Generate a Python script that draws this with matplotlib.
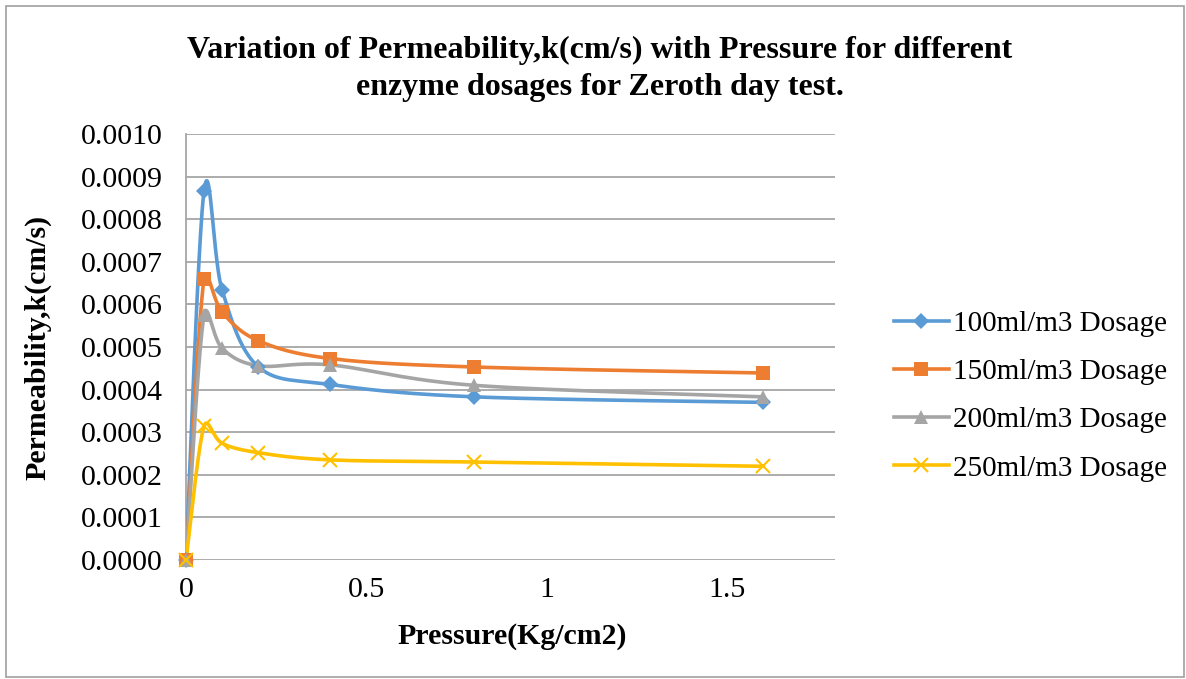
import numpy as np
import matplotlib.pyplot as plt
from matplotlib.patches import Rectangle

# Data
pressure = [0, 0.05, 0.1, 0.2, 0.4, 0.8, 1.6]
k_100 = [0, 0.000866, 0.000634, 0.000454, 0.000412, 0.000383, 0.000370]
k_150 = [0, 0.000660, 0.000582, 0.000515, 0.000473, 0.000453, 0.000439]
k_200 = [0, 0.000575, 0.000497, 0.000456, 0.000458, 0.000410, 0.000383]
k_250 = [0, 0.000314, 0.000274, 0.000252, 0.000235, 0.000230, 0.000220]
labels = ['100ml/m3 Dosage', '150ml/m3 Dosage', '200ml/m3 Dosage', '250ml/m3 Dosage']
colors = ['#5B9BD5', '#ED7D31', '#A5A5A5', '#FFC000']
markers = ['D', 's', '^', 'x']
msizes = [8, 10, 10, 10]

plt.rcParams['font.family'] = ['Liberation Serif', 'DejaVu Serif']

W, H = 1186, 679
fig = plt.figure(figsize=(W / 100, H / 100), dpi=100)
ax_l, ax_r, ax_t, ax_b = 186 / W, 835 / W, 1 - 134 / H, 1 - 560 / H
ax = fig.add_axes([ax_l, ax_b, ax_r - ax_l, ax_t - ax_b])

xmax, ymax = 1.8, 0.001
sx = (ax_r - ax_l) * W / xmax
sy = (ax_t - ax_b) * H / ymax


def limit(d, seglen):
    # control arm no longer than half the segment
    L = np.linalg.norm(d)
    lim = seglen / 2
    if L > lim and L > 0:
        d = d * lim / L
    return d


def smooth(x, y, n=40):
    # Excel-like smoothing with cubic Bezier segments in pixel space
    p = np.column_stack([np.array(x) * sx, np.array(y) * sy])
    pts = [p[0]] + list(p) + [p[-1]]
    out = []
    t = np.linspace(0, 1, n)[:, None]
    for i in range(1, len(pts) - 2):
        p0, p1, p2, p3 = pts[i - 1], pts[i], pts[i + 1], pts[i + 2]
        seglen = np.linalg.norm(p2 - p1)
        c1 = p1 + limit((p2 - p0) / 6, seglen)
        c2 = p2 - limit((p3 - p1) / 6, seglen)
        seg = (1 - t) ** 3 * p1 + 3 * (1 - t) ** 2 * t * c1 + 3 * (1 - t) * t ** 2 * c2 + t ** 3 * p2
        out.append(seg)
    out = np.vstack(out)
    return out[:, 0] / sx, out[:, 1] / sy


for ys, lab, c, m, ms in zip([k_100, k_150, k_200, k_250], labels, colors, markers, msizes):
    xs_s, ys_s = smooth(pressure, ys)
    ax.plot(xs_s, ys_s, color=c, lw=2.6, zorder=3)
    ax.plot(pressure, ys, linestyle='none', marker=m, color=c, ms=ms,
            mew=1.5 if m == 'x' else 0, zorder=4, clip_on=False)
    ax.plot([], [], color=c, lw=2.6, marker=m, ms=ms, mew=1.5 if m == 'x' else 0, label=lab)

ax.set_xlim(0, xmax)
ax.set_ylim(0, ymax)
ax.set_xticks([0, 0.5, 1, 1.5])
ax.set_xticklabels(['0', '0.5', '1', '1.5'])
ax.set_yticks(np.arange(0, 0.00101, 0.0001))
ax.set_yticklabels([f'{v:.4f}' for v in np.arange(0, 0.00101, 0.0001)])
ax.tick_params(length=0, labelsize=21.5)
ax.tick_params(axis='x', pad=12)
ax.tick_params(axis='y', pad=17)
ax.grid(axis='y', color='#A6A6A6', lw=1.3)
ax.set_axisbelow(True)
for s in ['top', 'right', 'bottom']:
    ax.spines[s].set_visible(False)
ax.spines['left'].set_color('#A6A6A6')
ax.spines['left'].set_linewidth(1.3)

fig.text(512 / W, 1 - 636 / H, 'Pressure(Kg/cm2)', ha='center', va='center',
         fontsize=21.5, fontweight='bold')
fig.text(38 / W, 1 - 347 / H, 'Permeability,k(cm/s)', ha='center', va='center',
         rotation=90, fontsize=21.5, fontweight='bold')
fig.text(600 / W, 1 - 69 / H, 'Variation of Permeability,k(cm/s) with Pressure for different\nenzyme dosages for Zeroth day test.',
         ha='center', va='center', fontsize=23, fontweight='bold', linespacing=1.35)

ax.legend(loc='center left', bbox_to_anchor=(882 / W, 1 - 396 / H), bbox_transform=fig.transFigure,
          frameon=False, fontsize=21, handlelength=1.9, labelspacing=0.75, handletextpad=0.15,
          borderaxespad=0)

fig.patches.append(Rectangle((6 / W, 2 / H), 1 - 8 / W, 1 - 8 / H, transform=fig.transFigure,
                             fill=False, edgecolor='#A0A0A0', lw=1.2))

fig.savefig('out.png', dpi=100)
